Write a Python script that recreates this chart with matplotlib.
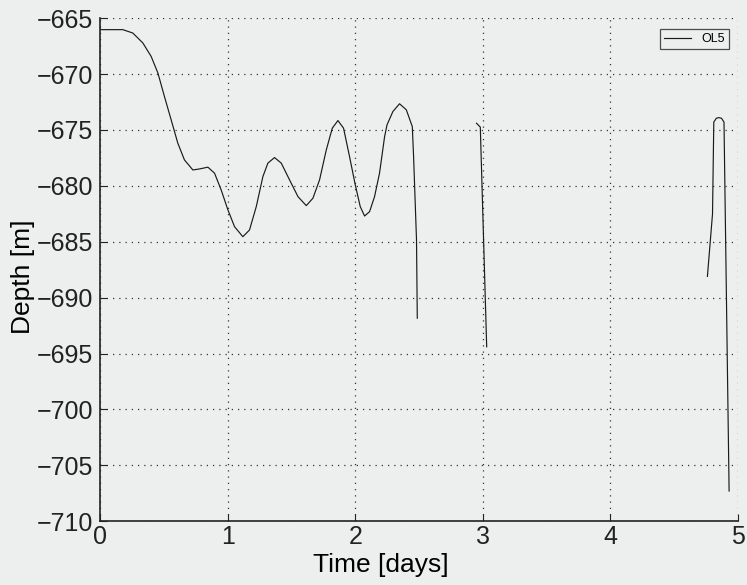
import matplotlib
matplotlib.use("Agg")
import matplotlib.pyplot as plt

plt.rcParams['font.family'] = ['Liberation Sans', 'DejaVu Sans']

# OL5 depth record, three pieces separated by gaps
t1 = [0.0, 0.178, 0.256, 0.335, 0.400, 0.453, 0.504, 0.557, 0.609, 0.661,
      0.727, 0.779, 0.845, 0.897, 0.949, 1.002, 1.054, 1.119, 1.171, 1.224,
      1.276, 1.315, 1.367, 1.420, 1.485, 1.551, 1.616, 1.668, 1.720, 1.773,
      1.820, 1.864, 1.908, 1.955, 2.000, 2.039, 2.073, 2.112, 2.151, 2.190,
      2.230, 2.249, 2.295, 2.347, 2.400, 2.447, 2.457, 2.480, 2.486]
d1 = [-666.03, -666.03, -666.33, -667.22, -668.42, -669.91, -672.00, -674.10, -676.18, -677.68,
      -678.58, -678.49, -678.33, -678.87, -680.37, -682.16, -683.66, -684.55, -683.95, -681.86,
      -679.17, -677.97, -677.47, -677.97, -679.47, -680.97, -681.77, -681.11, -679.47, -676.78,
      -674.84, -674.16, -674.84, -677.38, -679.92, -681.86, -682.70, -682.31, -680.97, -678.87,
      -675.59, -674.54, -673.35, -672.66, -673.20, -674.70, -677.38, -684.85, -691.84]

t2 = [2.95, 2.98, 3.03]
d2 = [-674.4, -674.75, -694.4]

t3 = [4.76, 4.80, 4.81, 4.83, 4.85, 4.87, 4.89, 4.93]
d3 = [-688.1, -682.5, -674.3, -673.95, -673.9, -673.95, -674.3, -707.3]

xticks = [0, 1, 2, 3, 4, 5]
yticks = [-710, -705, -700, -695, -690, -685, -680, -675, -670, -665]

bg = '#edefee'
fig = plt.figure(figsize=(7.47, 5.85), dpi=100, facecolor=bg)
ax = fig.add_axes([0.134, 0.109, 0.854, 0.860], facecolor=bg)

ln, = ax.plot(t1, d1, '-', color='#1a1a1a', lw=0.85, label='OL5')
ax.plot(t2, d2, '-', color='#1a1a1a', lw=0.85)
ax.plot(t3, d3, '-', color='#1a1a1a', lw=0.85)

ax.set_xlim(0, 5)
ax.set_ylim(-710, -665)
ax.set_xticks(xticks)
ax.set_yticks(yticks)
ax.set_yticklabels(['\u2212%d' % abs(v) for v in yticks])
ax.grid(True, linestyle=(0, (1, 4)), color='#333333', lw=0.9)

for s in ['top', 'right']:
    ax.spines[s].set_visible(False)
for s in ['left', 'bottom']:
    ax.spines[s].set_linewidth(1.2)
    ax.spines[s].set_color('#222222')

ax.tick_params(direction='in', length=5, labelsize=18, colors='#222222')
ax.tick_params(axis='x', pad=3)
ax.tick_params(axis='y', pad=5)
ax.set_xlabel('Time [days]', fontsize=19)
ax.set_ylabel('Depth [m]', fontsize=19)
ax.xaxis.set_label_coords(0.44, -0.064)
ax.yaxis.set_label_coords(-0.102, 0.486)

leg = ax.legend(handles=[ln], loc='upper right', fontsize=9, frameon=True,
                fancybox=False, handlelength=2.2, borderpad=0.3,
                bbox_to_anchor=(0.995, 0.99), facecolor=bg)
leg.get_frame().set_edgecolor('#222222')
leg.get_frame().set_linewidth(0.9)

fig.savefig('out.png', dpi=100, facecolor=bg)
